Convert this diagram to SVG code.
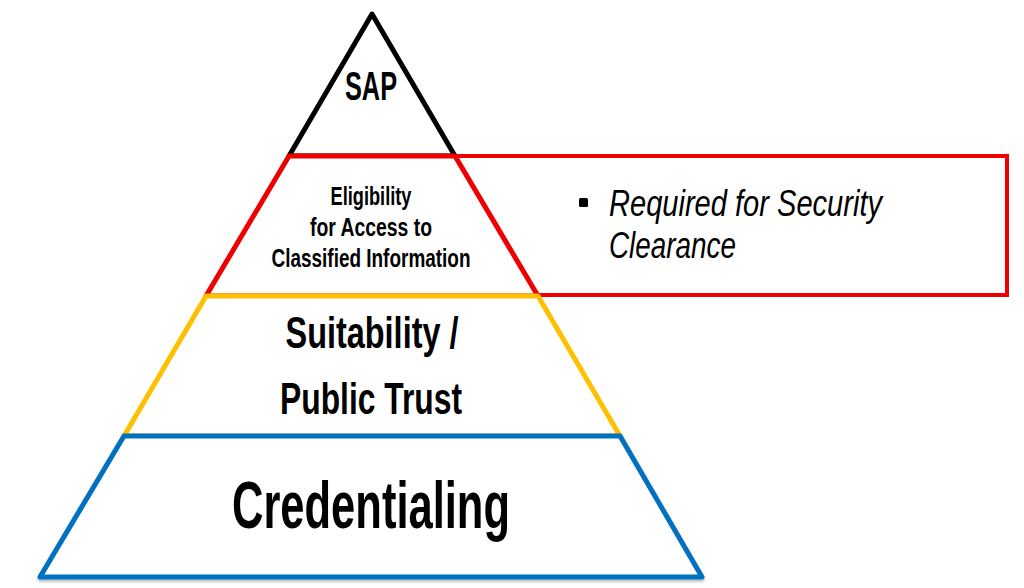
<svg xmlns="http://www.w3.org/2000/svg" width="1024" height="588" viewBox="0 0 1024 588">
  <style>
    .lay { fill: #ffffff; stroke-width: 5; stroke-linejoin: round; }
    .t { font-family: "Liberation Sans Narrow", "Liberation Sans", "DejaVu Sans Condensed", sans-serif; font-weight: bold; fill: #000; text-anchor: middle; }
    .it { font-family: "Liberation Sans Narrow", "Liberation Sans", sans-serif; font-style: italic; fill: #000; }
  </style>
  <defs>
    <filter id="sh" x="-5%" y="-5%" width="110%" height="115%">
      <feDropShadow dx="0" dy="2" stdDeviation="1.5" flood-color="#000" flood-opacity="0.3"/>
    </filter>
  </defs>
  <rect width="1024" height="588" fill="#ffffff"/>
  <g id="sap">
    <polygon class="lay" stroke="#000000" points="372,14 289,156 455,156"/>
    <text class="t" x="371" y="100" font-size="41" textLength="52" lengthAdjust="spacingAndGlyphs">SAP</text>
  </g>
  <g id="eligibility">
    <polygon class="lay" stroke="#EE0000" points="289,156 455,156 538,296 206,296"/>
    <text class="t" x="371" y="205" font-size="25" textLength="81" lengthAdjust="spacingAndGlyphs">Eligibility</text>
    <text class="t" x="371" y="236" font-size="25" textLength="122" lengthAdjust="spacingAndGlyphs">for Access to</text>
    <text class="t" x="371" y="267" font-size="25" textLength="199" lengthAdjust="spacingAndGlyphs">Classified Information</text>
  </g>
  <g id="note">
    <path d="M455,156 H1007 V295 H538" fill="none" stroke="#EE0000" stroke-width="4"/>
    <rect x="579" y="198" width="9" height="9" rx="1.5" fill="#000"/>
    <text class="it" x="609" y="216" font-size="37" textLength="273" lengthAdjust="spacingAndGlyphs">Required for Security</text>
    <text class="it" x="609" y="258" font-size="37" textLength="127" lengthAdjust="spacingAndGlyphs">Clearance</text>
  </g>
  <g id="suitability">
    <polygon class="lay" stroke="#FFC000" points="206,296 538,296 620,436 124,436"/>
    <text class="t" x="372" y="348" font-size="45" textLength="173" lengthAdjust="spacingAndGlyphs">Suitability /</text>
    <text class="t" x="371" y="414" font-size="45" textLength="182" lengthAdjust="spacingAndGlyphs">Public Trust</text>
  </g>
  <g id="credentialing">
    <polygon class="lay" stroke="#0070C0" points="124,436 620,436 702,577 40,577" filter="url(#sh)"/>
    <text class="t" x="371" y="528" font-size="66" textLength="278" lengthAdjust="spacingAndGlyphs">Credentialing</text>
  </g>
  <g id="connectors"></g>
</svg>
